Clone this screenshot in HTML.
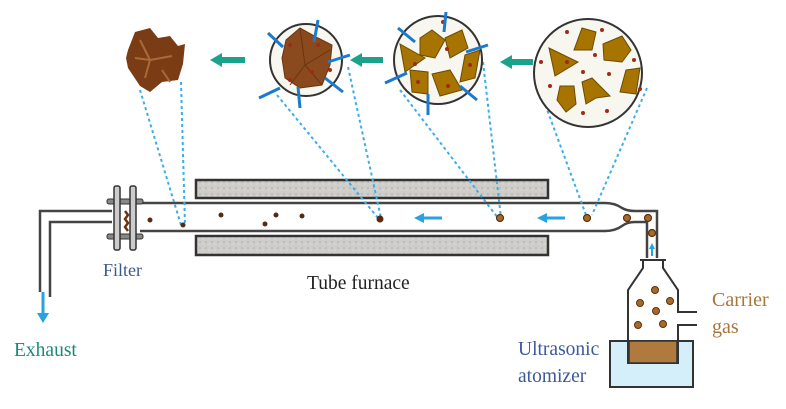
<!DOCTYPE html>
<html><head><style>
body{margin:0;background:#fff;}
svg{display:block;}
text{font-family:"Liberation Serif",serif;}
</style></head><body>
<svg width="786" height="409" viewBox="0 0 786 409" xmlns="http://www.w3.org/2000/svg">
<defs>
<pattern id="grain" width="6" height="6" patternUnits="userSpaceOnUse">
<rect width="6" height="6" fill="#cfcdc9"/><circle cx="2" cy="2" r="1" fill="#bab8b4"/><circle cx="5" cy="4" r="0.8" fill="#dedcd8"/>
</pattern>
</defs>
<!-- furnace blocks -->
<rect x="196" y="180" width="352" height="18" fill="url(#grain)" stroke="#333" stroke-width="2.5"/>
<rect x="196" y="236" width="352" height="19" fill="url(#grain)" stroke="#333" stroke-width="2.5"/>
<!-- tube -->
<path d="M140,203 H605 Q615,203 622,208 Q627,211 635,211 H657 V258" fill="none" stroke="#444" stroke-width="2.5"/>
<path d="M140,231 H605 Q615,231 622,226 Q627,222 635,222 H647 V258" fill="none" stroke="#444" stroke-width="2.5"/>
<!-- exhaust pipe -->
<path d="M112,211 H40 V292" fill="none" stroke="#444" stroke-width="2.5"/>
<path d="M112,222 H50 V297" fill="none" stroke="#444" stroke-width="2.5"/>
<path d="M43,292 V315" stroke="#29a3e0" stroke-width="3"/>
<path d="M37,313 L43,323 L49,313z" fill="#29a3e0"/>
<!-- filter flanges -->
<rect x="107" y="199" width="36" height="5" rx="2" fill="#888" stroke="#333"/>
<rect x="107" y="234" width="36" height="5" rx="2" fill="#888" stroke="#333"/>
<rect x="114" y="186" width="6" height="64" rx="2" fill="#ccc" stroke="#333" stroke-width="1.5"/>
<rect x="130" y="186" width="6" height="64" rx="2" fill="#ccc" stroke="#333" stroke-width="1.5"/>
<path d="M125,211 l3,4 -3,4 3,4 -3,4 3,4" stroke="#6b3410" stroke-width="2.5" fill="none"/>
<!-- dashed lines -->
<g stroke="#3aaeea" stroke-width="2" stroke-dasharray="3,3" fill="none">
<path d="M140,90 L181,225"/><path d="M181,82 L185,225"/>
<path d="M277,95 L378,218"/><path d="M348,67 L381,218"/>
<path d="M400,90 L498,218"/><path d="M483,62 L501,218"/>
<path d="M535,77 L586,215"/><path d="M647,88 L592,215"/>
</g>
<!-- particles in tube -->
<g fill="#5a2a10">
<circle cx="150" cy="220" r="2.5"/><circle cx="183" cy="225" r="2.5"/><circle cx="221" cy="215" r="2.5"/>
<circle cx="265" cy="224" r="2.5"/><circle cx="276" cy="215" r="2.5"/><circle cx="302" cy="216" r="2.5"/>
<circle cx="380" cy="219" r="3.5"/>
</g>
<g fill="#a86a2a" stroke="#5a3010" stroke-width="1.2">
<circle cx="500" cy="218" r="3.5"/><circle cx="587" cy="218" r="3.5"/><circle cx="627" cy="218" r="3.5"/><circle cx="648" cy="218" r="3.5"/><circle cx="652" cy="233" r="3.5"/>
</g>
<!-- blue arrows in tube -->
<path d="M442,218 H422" stroke="#29a3e0" stroke-width="3"/><path d="M424,213 L414,218 L424,223z" fill="#29a3e0"/>
<path d="M565,218 H545" stroke="#29a3e0" stroke-width="3"/><path d="M547,213 L537,218 L547,223z" fill="#29a3e0"/>
<path d="M652,256 V248" stroke="#29a3e0" stroke-width="2"/><path d="M649,249 L652,243 L655,249z" fill="#29a3e0"/>
<!-- bottle -->
<rect x="610" y="341" width="83" height="46" fill="#d4eefa" stroke="#333" stroke-width="2"/>
<path d="M643,260 V268 L628,290 V363 H678 V325 H697 M697,312 H678 V290 L663,268 V260" fill="none" stroke="#333" stroke-width="2"/>
<line x1="640" y1="260" x2="666" y2="260" stroke="#333" stroke-width="2"/>
<rect x="629" y="341" width="48" height="22" fill="#b07a3e" stroke="#333" stroke-width="1.5"/>
<g fill="#a86a2a" stroke="#5a3010" stroke-width="1">
<circle cx="655" cy="290" r="3.5"/><circle cx="640" cy="303" r="3.5"/><circle cx="670" cy="301" r="3.5"/>
<circle cx="656" cy="311" r="3.5"/><circle cx="638" cy="325" r="3.5"/><circle cx="663" cy="324" r="3.5"/>
</g>
<!-- teal arrows -->
<g fill="#1aa38a"><path d="M245,57 H222 V53 L210,60 L222,67 V63 H245z"/>
<path d="M383,57 H362 V53 L350,60 L362,67 V63 H383z"/>
<path d="M533,59 H512 V55 L500,62 L512,69 V65 H533z"/></g>
<!-- aggregate -->
<path d="M128,50 L135,32 L150,28 L158,38 L170,36 L178,46 L185,44 L183,64 L178,80 L162,82 L150,92 L140,86 L128,68 L126,58z" fill="#7a3c14"/>
<path d="M140,40 L150,60 L172,56 M150,60 L145,78 M162,70 L170,82 M135,58 L150,60" stroke="#a86a3a" stroke-width="2" fill="none"/>
<!-- circle 2 -->
<circle cx="306" cy="60" r="36" fill="#f7f6ef" stroke="#333" stroke-width="2"/>
<path d="M286,40 L300,28 L318,38 L332,45 L330,65 L322,85 L300,88 L285,78 L282,58z" fill="#8a4a1e" stroke="#6b3410"/>
<path d="M300,28 L305,65 L330,50 M305,65 L290,85 M305,65 L322,85" stroke="#6b3410" fill="none"/>
<g fill="#a02a1a"><circle cx="290" cy="45" r="2"/><circle cx="318" cy="45" r="2"/><circle cx="312" cy="72" r="2"/><circle cx="290" cy="80" r="2"/><circle cx="330" cy="70" r="2"/></g>
<g stroke="#1a7ad0" stroke-width="3"><path d="M268,33 L283,47"/><path d="M318,20 L314,42"/><path d="M350,55 L328,62"/><path d="M343,92 L325,78"/><path d="M300,108 L298,87"/><path d="M259,98 L280,88"/></g>
<!-- circle 3 -->
<circle cx="438" cy="60" r="44" fill="#f7f6ef" stroke="#333" stroke-width="2"/>
<g fill="#a87400" stroke="#6b4a00"><path d="M420,38 L432,30 L445,40 L435,58 L420,55z"/><path d="M445,38 L462,30 L468,48 L450,58z"/><path d="M400,44 L425,58 L405,72z"/><path d="M465,55 L480,50 L475,78 L460,82z"/><path d="M410,70 L428,72 L428,94 L412,92z"/><path d="M432,74 L450,70 L462,90 L440,96z"/></g>
<g fill="#a02a1a"><circle cx="415" cy="64" r="2"/><circle cx="447" cy="49" r="2"/><circle cx="418" cy="82" r="2"/><circle cx="448" cy="86" r="2"/><circle cx="470" cy="65" r="2"/><circle cx="443" cy="22" r="2"/></g>
<g stroke="#1a7ad0" stroke-width="3"><path d="M398,28 L415,42"/><path d="M446,12 L444,32"/><path d="M488,45 L466,52"/><path d="M477,100 L460,86"/><path d="M428,115 L428,94"/><path d="M385,83 L407,73"/></g>
<!-- circle 4 -->
<circle cx="588" cy="73" r="54" fill="#f7f6ef" stroke="#333" stroke-width="2"/>
<g fill="#a87400" stroke="#6b4a00"><path d="M582,28 L596,32 L592,50 L574,50z"/><path d="M603,44 L622,36 L631,50 L622,62 L604,60z"/><path d="M549,48 L578,62 L555,76z"/><path d="M626,70 L640,68 L636,94 L620,92z"/><path d="M560,86 L574,86 L576,104 L566,112 L557,100z"/><path d="M582,82 L592,78 L610,96 L596,98 L586,104z"/></g>
<g fill="#a02a1a"><circle cx="567" cy="32" r="2"/><circle cx="602" cy="30" r="2"/><circle cx="595" cy="55" r="2"/><circle cx="634" cy="60" r="2"/><circle cx="541" cy="62" r="2"/><circle cx="583" cy="72" r="2"/><circle cx="609" cy="74" r="2"/><circle cx="550" cy="86" r="2"/><circle cx="583" cy="113" r="2"/><circle cx="607" cy="111" r="2"/><circle cx="640" cy="89" r="2"/><circle cx="567" cy="62" r="2"/></g>
<!-- labels -->
<text x="103" y="276" font-size="18" fill="#3a5a8c">Filter</text>
<text x="307" y="289" font-size="19.5" fill="#222">Tube furnace</text>
<text x="14" y="356" font-size="19.5" fill="#1a8a78">Exhaust</text>
<text x="712" y="306" font-size="20" fill="#a8753a">Carrier</text>
<text x="712" y="333" font-size="20" fill="#a8753a">gas</text>
<text x="518" y="355" font-size="19.5" fill="#3a5a9c">Ultrasonic</text>
<text x="518" y="382" font-size="19.5" fill="#3a5a9c">atomizer</text>
</svg>
</body></html>
